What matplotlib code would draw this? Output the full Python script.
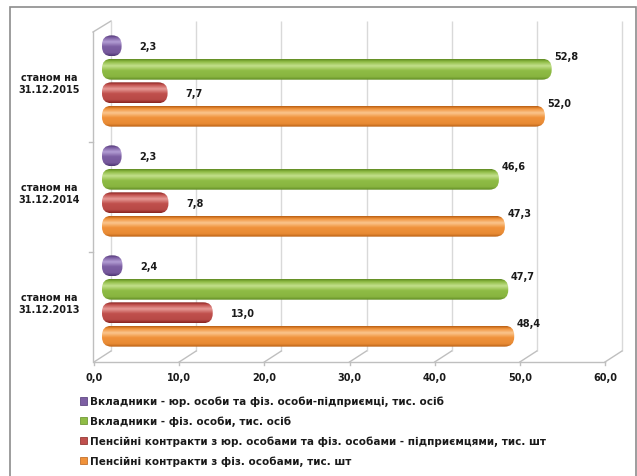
import numpy as np
import matplotlib
matplotlib.use('Agg')
import matplotlib.pyplot as plt
import matplotlib.patches as patches
import matplotlib.transforms as mtransforms
from matplotlib.colors import to_rgb

# дані
dates = ['станом на\n31.12.2013', 'станом на\n31.12.2014', 'станом на\n31.12.2015']
series_names = [
    'Вкладники - юр. особи та фіз. особи-підприємці, тис. осіб',
    'Вкладники - фіз. особи, тис. осіб',
    'Пенсійні контракти з юр. особами та фіз. особами - підприємцями, тис. шт',
    'Пенсійні контракти з фіз. особами, тис. шт',
]
depositors_legal = [2.4, 2.3, 2.3]
depositors_phys = [47.7, 46.6, 52.8]
contracts_legal = [13.0, 7.8, 7.7]
contracts_phys = [48.4, 47.3, 52.0]
x_ticks = [0, 10, 20, 30, 40, 50, 60]
x_tick_labels = ['0,0', '10,0', '20,0', '30,0', '40,0', '50,0', '60,0']

series = [depositors_legal, depositors_phys, contracts_legal, contracts_phys]
# (темний край, основний, відблиск)
palette = [
    ('#4e3573', '#7d5fa3', '#b39ed4'),
    ('#5f8a22', '#8fbc45', '#c3e08c'),
    ('#86221f', '#c0504d', '#e79a96'),
    ('#b85f14', '#f0923a', '#fbc68e'),
]
offsets = [0.32, 0.107, -0.107, -0.32]
bar_h = 0.19

W, H = 637, 477
fig = plt.figure(figsize=(W / 100, H / 100), dpi=100)
fig.patch.set_facecolor('white')

# область графіка (центр глибини 3D)
left_px, right_px, top_px, bot_px = 102, 613, 27, 357
ax = fig.add_axes([left_px / W, 1 - bot_px / H, (right_px - left_px) / W, (bot_px - top_px) / H])
ax.set_xlim(0, 60)
ax.set_ylim(-0.5, 2.5)
for s in ax.spines.values():
    s.set_visible(False)
ax.set_xticks([])
ax.set_yticks(range(len(dates)), dates)
ax.tick_params(axis='y', length=0, pad=16)
for lab in ax.get_yticklabels():
    lab.set_fontsize(7)
    lab.set_fontweight('bold')
    lab.set_multialignment('center')
    lab.set_color('#1a1a1a')

x_per_px = 60 / (right_px - left_px)
y_per_px = 3 / (bot_px - top_px)
aspect = y_per_px / x_per_px


def gradient(cols, n=64):
    edge, main, hi = [np.array(to_rgb(c)) for c in cols]
    t = np.linspace(0, 1, n)
    keys = [0.0, 0.12, 0.32, 0.55, 0.85, 1.0]
    cs = [edge, main, hi, main, main * 0.85 + edge * 0.15, edge]
    img = np.zeros((n, 1, 3))
    for ch in range(3):
        img[:, 0, ch] = np.interp(t, keys, [c[ch] for c in cs])
    return img


def cylinder(y, w, cols):
    r_px = 9.5
    r = min(r_px * x_per_px, w / 2)
    box = patches.FancyBboxPatch((0, y - bar_h / 2), w, bar_h,
                                 boxstyle=f'round,pad=0,rounding_size={r}',
                                 mutation_aspect=aspect,
                                 facecolor='none', edgecolor='none')
    ax.add_patch(box)
    im = ax.imshow(gradient(cols), extent=(0, w, y - bar_h / 2, y + bar_h / 2),
                   aspect='auto', interpolation='bilinear', zorder=3)
    im.set_clip_path(box)


for vals, off, cols in zip(series, offsets, palette):
    for g, v in enumerate(vals):
        y = g + off
        cylinder(y, v, cols)
        if v < 20:
            xy_off, va = (13, 0), 'center'
        else:
            xy_off, va = (2, 6), 'bottom'
        ax.annotate(f'{v:.1f}'.replace('.', ','), (v, y), xytext=xy_off,
                    textcoords='offset points', ha='left', va=va,
                    fontsize=7, fontweight='bold', color='#1a1a1a', zorder=5)

ax.set_xlim(0, 60)
ax.set_ylim(-0.5, 2.5)

# задня стінка: сітка
grid_tr = mtransforms.offset_copy(ax.get_xaxis_transform(), fig, x=9, y=5, units='dots')
ax.vlines(x_ticks, 0, 1, transform=grid_tr, colors='#d9d9d9', lw=1, zorder=0, clip_on=False)

# підписи осі X на передньому краї
lab_tr = mtransforms.offset_copy(ax.get_xaxis_transform(), fig, x=-8, y=-21, units='dots')
for xt, lab in zip(x_ticks, x_tick_labels):
    ax.text(xt, 0, lab, transform=lab_tr, ha='center', va='center',
            fontsize=7, fontweight='bold', color='#1a1a1a')

# 3D каркас (в пікселях)
ident = mtransforms.IdentityTransform()
line_kw = dict(transform=ident, color='#bfbfbf', lw=1, clip_on=False, zorder=1)
fx, fy = -9, -6   # передній край
bx, by = 9, 5     # задній край
p0 = ax.transData.transform((0, -0.5))
p1 = ax.transData.transform((0, 2.5))
ax.plot([p0[0] + fx, p1[0] + fx], [p0[1] + fy, p1[1] + fy], **line_kw)
ax.plot([p1[0] + fx, p1[0] + bx], [p1[1] + fy, p1[1] + by], **line_kw)
for gb in [0.5, 1.5]:
    q = ax.transData.transform((0, gb))
    ax.plot([q[0] + fx - 4, q[0] + fx], [q[1] + fy, q[1] + fy], **line_kw)
pe = ax.transData.transform((60, -0.5))
ax.plot([p0[0] + fx + 1, pe[0] - 8], [p0[1] + fy, p0[1] + fy], **line_kw)
for xt in x_ticks:
    q = ax.transData.transform((xt, -0.5))
    ax.plot([q[0] - 8, q[0] + bx], [q[1] + fy, q[1] + by], **line_kw)
    ax.plot([q[0] - 8, q[0] - 8], [q[1] + fy, q[1] + fy - 3], **line_kw)

# рамка
fig.add_artist(patches.Rectangle((10, -5), 626, H - 8 + 5, transform=ident,
                                 facecolor='none', edgecolor='#8c8c8c', lw=1.2))

# легенда
handles = [patches.Patch(facecolor=c[1], edgecolor=c[0], lw=0.5) for c in palette]
leg = fig.legend(handles, series_names, loc='upper left',
                 bbox_to_anchor=(80 / W, 1 - 397 / H), frameon=False,
                 fontsize=7.5, handlelength=0.7, handleheight=0.7,
                 handletextpad=0.3, labelspacing=0.9, borderpad=0, borderaxespad=0)
for t in leg.get_texts():
    t.set_fontweight('bold')
    t.set_color('#1a1a1a')

fig.savefig('out.png', dpi=100)
